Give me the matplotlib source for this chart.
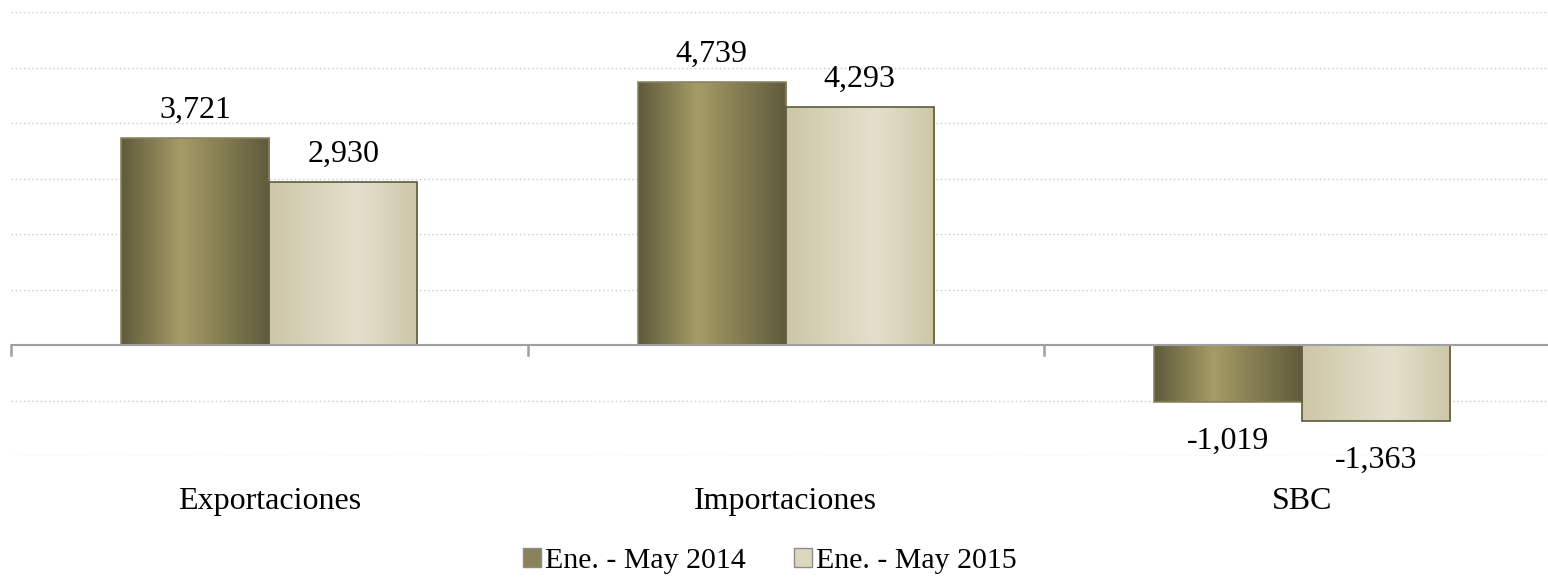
import numpy as np
import matplotlib.pyplot as plt
from matplotlib.colors import LinearSegmentedColormap
from matplotlib.patches import Patch

plt.rcParams["font.family"] = ["Liberation Serif", "DejaVu Serif"]

categorias = ["Exportaciones", "Importaciones", "SBC"]
series = ["Ene. - May 2014", "Ene. - May 2015"]
valores_2014 = [3721, 4739, -1019]
valores_2015 = [2930, 4293, -1363]

# gradientes horizontales tipo Excel
cmap_2014 = LinearSegmentedColormap.from_list(
    "g14", [(0, "#5e5a3b"), (0.4, "#a69c66"), (1, "#5e5a3b")])
cmap_2015 = LinearSegmentedColormap.from_list(
    "g15", [(0, "#cdc7a6"), (0.6, "#e4e0cd"), (1, "#cdc7a6")])

fig = plt.figure(figsize=(15.48, 5.78), dpi=100)
ax = fig.add_axes([11 / 1548, 1 - 456 / 578, 1549.5 / 1548, 444 / 578])

x = np.arange(len(categorias))
ancho = 0.2866

grad = np.linspace(0, 1, 256).reshape(1, -1)
for vals, desplaz, cmap, borde in [
    (valores_2014, -ancho / 2, cmap_2014, "#8a8560"),
    (valores_2015, ancho / 2, cmap_2015, "#5e5a3b"),
]:
    barras = ax.bar(x + desplaz, vals, ancho, color="none", edgecolor=borde,
                    linewidth=1.2, zorder=3)
    for b, v in zip(barras, vals):
        x0 = b.get_x()
        x1 = x0 + b.get_width()
        y0, y1 = sorted([0, v])
        im = ax.imshow(grad, cmap=cmap, aspect="auto", extent=[x0, x1, y0, y1],
                       zorder=2, interpolation="bicubic")
        im.set_clip_path(b)
        if v >= 0:
            ax.text(b.get_x() + b.get_width() / 2, v + 240, f"{v:,}",
                    ha="center", va="bottom", fontsize=23)
        else:
            ax.text(b.get_x() + b.get_width() / 2, v - 460, f"{v:,}",
                    ha="center", va="top", fontsize=23)

ax.set_xlim(-0.5, 2.5)
ax.set_ylim(-2000, 6000)
ax.set_yticks(np.arange(-2000, 6001, 1000))
ax.yaxis.grid(True, color="#c8c8c8", linestyle=(0, (1, 2)), linewidth=1)
ax.set_axisbelow(True)
ax.tick_params(axis="y", left=False, labelleft=False)

for s in ax.spines.values():
    s.set_visible(False)

ax.axhline(0, color="#a0a0a0", linewidth=1.5, zorder=4)
for xt in [-0.5, 0.5, 1.5]:
    ax.plot([xt, xt], [0, -180], color="#a0a0a0", linewidth=1.8,
            clip_on=False, zorder=4)

ax.set_xticks(x)
ax.set_xticklabels(categorias, fontsize=23)
ax.tick_params(axis="x", length=0, pad=22)

handles = [
    Patch(facecolor="#8a8258", edgecolor="#8c8c8c", label=series[0]),
    Patch(facecolor="#dcd7bf", edgecolor="#8c8c8c", label=series[1]),
]
fig.legend(handles=handles, loc="center", bbox_to_anchor=(770 / 1548, 1 - 561 / 578),
           ncol=2, frameon=False, fontsize=21.5, handlelength=0.6,
           handleheight=0.6, handletextpad=0.15, columnspacing=1.6)

plt.savefig("out.png", dpi=100)
